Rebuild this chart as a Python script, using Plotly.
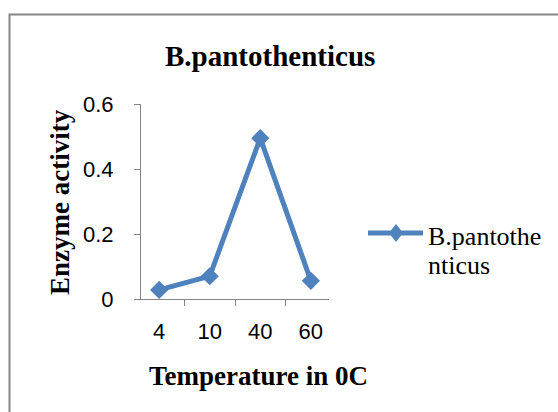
import plotly.graph_objects as go

categories = ["4", "10", "40", "60"]
values = [0.028, 0.07, 0.495, 0.056]
series_name = "B.pantothenticus"
y_ticks = [0, 0.2, 0.4, 0.6]
y_tick_labels = ["0", "0.2", "0.4", "0.6"]

W, H = 558, 412
L, R, T, B = 141, 329, 104, 299  # plot area in px
BLUE = "#4F81BD"
GRAY = "#868686"
SERIF = "Liberation Serif, Times New Roman, serif"
SANS = "Liberation Sans, Arial, sans-serif"

def px(x):
    return (x - L) / (R - L)

def py(y):
    return (B - y) / (B - T)

fig = go.Figure()
fig.add_trace(go.Scatter(
    x=categories, y=values, mode="lines+markers", name=series_name,
    line=dict(color=BLUE, width=5),
    marker=dict(symbol="diamond", size=14, color=BLUE),
    showlegend=False, cliponaxis=False,
))

shapes = [
    # outer chart border
    dict(type="rect", xref="paper", yref="paper",
         x0=px(9.5), x1=px(565), y0=py(14.5), y1=py(420),
         line=dict(color=GRAY, width=2), fillcolor="rgba(0,0,0,0)", layer="below"),
    # legend line
    dict(type="line", xref="paper", yref="paper",
         x0=px(368), x1=px(423), y0=py(233), y1=py(233),
         line=dict(color=BLUE, width=5)),
]
cx, cy, hw, hh = 396, 233, 7, 9
shapes.append(dict(type="path", xref="paper", yref="paper",
                   path=f"M {px(cx-hw)} {py(cy)} L {px(cx)} {py(cy-hh)} L {px(cx+hw)} {py(cy)} L {px(cx)} {py(cy+hh)} Z",
                   fillcolor=BLUE, line=dict(color=BLUE, width=0)))

annotations = [
    dict(text="<b>B.pantothenticus</b>", x=px(270), y=py(56), xref="paper", yref="paper",
         showarrow=False, xanchor="center", yanchor="middle",
         font=dict(family=SERIF, size=29, color="black")),
    dict(text="<b>Enzyme activity</b>", x=px(60), y=py(202), xref="paper", yref="paper",
         showarrow=False, xanchor="center", yanchor="middle", textangle=-90,
         font=dict(family=SERIF, size=27, color="black")),
    dict(text="<b>Temperature in 0C</b>", x=px(258), y=py(376), xref="paper", yref="paper",
         showarrow=False, xanchor="center", yanchor="middle",
         font=dict(family=SERIF, size=27, color="black")),
    dict(text="B.pantothe", x=px(426), y=py(236), xref="paper", yref="paper",
         showarrow=False, xanchor="left", yanchor="middle",
         font=dict(family=SERIF, size=26, color="black")),
    dict(text="nticus", x=px(426), y=py(265), xref="paper", yref="paper",
         showarrow=False, xanchor="left", yanchor="middle",
         font=dict(family=SERIF, size=26, color="black")),
]

fig.update_layout(
    width=W, height=H,
    margin=dict(l=L, r=W - R, t=T, b=H - B, pad=0),
    paper_bgcolor="white", plot_bgcolor="white",
    shapes=shapes, annotations=annotations,
    xaxis=dict(type="category", showline=True, linecolor=GRAY, linewidth=1,
               ticks="outside", tickson="boundaries", ticklen=6, tickcolor=GRAY,
               showgrid=False, zeroline=False,
               tickfont=dict(family=SANS, size=22, color="black"),
               ticklabelstandoff=13, fixedrange=True),
    yaxis=dict(range=[0, 0.6], tickvals=y_ticks, ticktext=y_tick_labels,
               showline=True, linecolor=GRAY, linewidth=1,
               ticks="outside", ticklen=6, tickcolor=GRAY,
               showgrid=False, zeroline=False,
               tickfont=dict(family=SANS, size=22, color="black"),
               ticklabelstandoff=16, fixedrange=True),
)

fig.write_html("out.html")
